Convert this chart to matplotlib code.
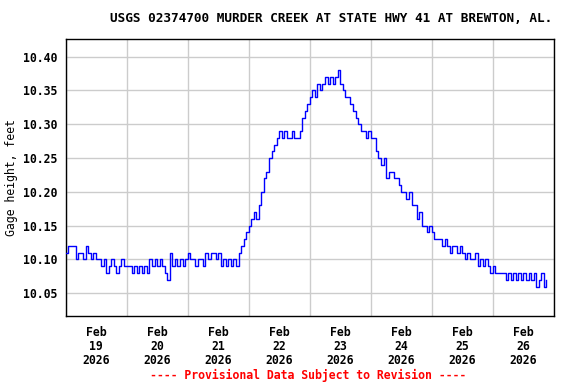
import numpy as np
import pandas as pd
import matplotlib
matplotlib.use('Agg')
import matplotlib.pyplot as plt
import matplotlib.dates as mdates

plt.rcParams['font.family'] = 'DejaVu Sans Mono'
plt.rcParams['font.weight'] = 'bold'

# hourly gage height, hundredths of a foot above 10.00 ft
feb19 = [11, 12, 12, 12, 10, 11, 11, 10, 12, 11, 10, 11, 10, 10, 9, 10, 8, 9, 10, 9, 8, 9, 10, 9]
feb20 = [9, 9, 8, 9, 8, 9, 8, 9, 8, 10, 9, 10, 9, 10, 9, 8, 7, 11, 9, 10, 9, 10, 9, 10]
feb21 = [11, 10, 10, 9, 10, 10, 9, 11, 10, 11, 11, 10, 11, 9, 10, 9, 10, 9, 10, 9, 11, 12, 13, 14]
feb22 = [15, 16, 17, 16, 18, 20, 22, 23, 25, 26, 27, 28, 29, 28, 29, 28, 28, 29, 28, 28, 29, 31, 32, 33]
feb23 = [34, 35, 34, 36, 35, 36, 37, 36, 37, 36, 37, 38, 36, 35, 34, 34, 33, 32, 31, 30, 29, 29, 28, 29]
feb24 = [28, 28, 26, 25, 24, 25, 22, 23, 23, 22, 22, 21, 20, 20, 19, 20, 18, 18, 16, 17, 15, 15, 14, 15]
feb25 = [14, 13, 13, 13, 12, 13, 12, 11, 12, 12, 11, 12, 11, 10, 11, 10, 10, 11, 9, 10, 9, 10, 9, 8]
feb26 = [9, 8, 8, 8, 8, 7, 8, 7, 8, 7, 8, 7, 8, 7, 8, 7, 8, 6, 7, 8, 6, 7]

hundredths = feb19 + feb20 + feb21 + feb22 + feb23 + feb24 + feb25 + feb26
gage = 10 + np.array(hundredths) / 100.0
times = pd.date_range('2026-02-19 00:00', periods=len(gage), freq='h')

day_lines = pd.date_range('2026-02-19', '2026-02-27', freq='D')
label_days = pd.date_range('2026-02-19 12:00', periods=8, freq='D')
x_labels = ['Feb\n%d\n2026' % d.day for d in label_days]
y_ticks = [10.05, 10.10, 10.15, 10.20, 10.25, 10.30, 10.35, 10.40]

title = 'USGS 02374700 MURDER CREEK AT STATE HWY 41 AT BREWTON, AL.'
footer = '---- Provisional Data Subject to Revision ----'

fig = plt.figure(figsize=(5.76, 3.84), dpi=100)
ax = fig.add_axes([65.5/576, 1 - 316/384, 488.5/576, 276.7/384])

ax.plot(mdates.date2num(times.to_pydatetime()), gage, color='#0000ff', lw=1,
        drawstyle='steps-post', zorder=3)

ax.set_xlim(mdates.date2num(day_lines[0].to_pydatetime()),
            mdates.date2num(day_lines[-1].to_pydatetime()))
ax.set_ylim(10.0164, 10.4257)

ax.set_xticks(mdates.date2num(day_lines.to_pydatetime()))
ax.set_xticklabels([])
ax.set_xticks(mdates.date2num(label_days.to_pydatetime()), minor=True)
ax.set_xticklabels(x_labels, minor=True, fontsize=8.3)
for t in ax.get_xticklabels(minor=True):
    t.set_linespacing(1.12)
ax.tick_params(which='both', length=0)
ax.tick_params(axis='x', which='minor', pad=7)

ax.set_yticks(y_ticks)
ax.set_yticklabels(['%.2f' % v for v in y_ticks], fontsize=8.3)
ax.tick_params(axis='y', pad=6)

ax.grid(True, which='major', color='#cccccc', lw=1)
ax.set_axisbelow(True)
for s in ax.spines.values():
    s.set_color('black')
    s.set_linewidth(1)

ax.set_ylabel('Gage height, feet', fontsize=8.3)
ax.yaxis.set_label_coords(-0.098, 0.5)

fig.text(331/576, 1 - 19/384, title, ha='center', va='center', fontsize=9.2)
fig.text(308/576, 1 - 375.5/384, footer, ha='center', va='center',
         color='red', fontsize=8.3)

fig.savefig('out.png', dpi=100)
